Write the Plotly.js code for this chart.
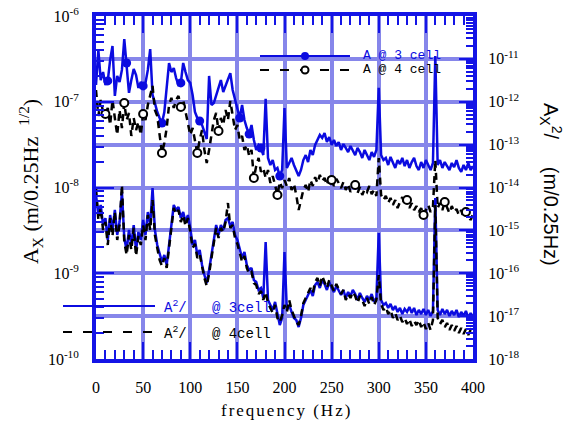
<!DOCTYPE html>
<html><head><meta charset="utf-8">
<script src="https://cdn.plot.ly/plotly-3.0.1.min.js"></script>
<style>html,body{margin:0;padding:0;background:#fff}#chart{width:574px;height:428px}</style>
</head><body><div id="chart"></div>
<script>
// frequency (Hz)
const FREQ = [
0,2.5,5,7.5,10,12.5,15,17.5,20,22.5,
25,27.5,30,32.5,35,37.5,40,42.5,45,47.5,
50,52.5,55,57.5,60,62.5,65,67.5,70,72.5,
75,77.5,80,82.5,85,87.5,90,92.5,95,97.5,
100,102.5,105,107.5,110,112.5,115,117.5,120,122.5,
125,127.5,130,132.5,135,137.5,140,142.5,145,147.5,
150,152.5,155,157.5,160,162.5,165,167.5,170,172.5,
175,177.5,180,182.5,185,187.5,190,192.5,195,197.5,
200,202.5,205,207.5,210,212.5,215,217.5,220,222.5,
225,227.5,230,232.5,235,237.5,240,242.5,245,247.5,
250,252.5,255,257.5,260,262.5,265,267.5,270,272.5,
275,277.5,280,282.5,285,287.5,290,292.5,295,297.5,
300,302.5,305,307.5,310,312.5,315,317.5,320,322.5,
325,327.5,330,332.5,335,337.5,340,342.5,345,347.5,
350,352.5,355,357.5,360,362.5,365,367.5,370,372.5,
375,377.5,380,382.5,385,387.5,390,392.5,395,397.5,
400];

// A (m/0.25Hz^1/2) @ 3 cell  (left axis)
const A_3CELL = [
1.57e-7,4.01e-7,1.79e-7,2.22e-7,1.57e-7,1.75e-7,3.07e-7,4.47e-7,1.17e-7,2.00e-7,
1.70e-7,2.35e-7,5.39e-7,2.83e-7,1.27e-7,1.79e-7,2.41e-7,2.05e-7,1.45e-7,1.70e-7,
1.53e-7,1.66e-7,2.35e-7,4.12e-7,1.20e-7,9.67e-8,7.59e-8,6.46e-8,5.65e-8,7.59e-8,
1.37e-7,2.83e-7,2.22e-7,2.47e-7,1.89e-7,1.57e-7,1.66e-7,2.83e-7,2.22e-7,1.79e-7,
1.66e-7,1.20e-7,7.59e-8,6.46e-8,5.96e-8,5.36e-8,4.44e-8,3.68e-8,2.00e-7,9.16e-8,
9.67e-8,1.20e-7,1.45e-7,1.79e-7,1.30e-7,1.57e-7,1.89e-7,2.16e-7,1.37e-7,1.05e-7,
8.01e-8,6.46e-8,9.16e-8,6.12e-8,4.94e-8,4.21e-8,5.36e-8,3.58e-8,2.74e-8,3.13e-8,
2.89e-8,2.39e-8,1.08e-7,2.21e-8,1.83e-8,2.09e-8,1.60e-8,1.69e-8,1.36e-8,1.60e-8,
8.46e-8,1.69e-8,1.93e-8,2.21e-8,1.83e-8,1.60e-8,1.36e-8,1.60e-8,2.09e-8,2.39e-8,
1.98e-8,2.74e-8,2.39e-8,3.13e-8,3.58e-8,4.10e-8,3.78e-8,4.32e-8,3.39e-8,3.88e-8,
3.13e-8,3.58e-8,3.05e-8,3.39e-8,2.74e-8,3.21e-8,2.89e-8,2.59e-8,3.05e-8,2.74e-8,
2.39e-8,2.89e-8,2.59e-8,2.21e-8,2.74e-8,2.39e-8,2.09e-8,2.59e-8,2.27e-8,2.74e-8,
1.45e-7,2.39e-8,2.09e-8,2.21e-8,1.83e-8,2.27e-8,1.98e-8,1.69e-8,2.09e-8,1.88e-8,
2.21e-8,1.78e-8,2.09e-8,1.69e-8,1.98e-8,2.21e-8,1.78e-8,1.60e-8,1.98e-8,1.69e-8,
2.09e-8,1.83e-8,1.60e-8,1.93e-8,3.42e-7,1.83e-8,2.09e-8,1.69e-8,1.98e-8,1.78e-8,
1.60e-8,1.93e-8,1.73e-8,2.09e-8,1.69e-8,1.52e-8,1.83e-8,1.60e-8,1.93e-8,1.60e-8,
1.78e-8];

// A (m/0.25Hz^1/2) @ 4 cell  (left axis)
const A_4CELL = [
1.37e-7,6.82e-8,1.05e-7,7.59e-8,7.20e-8,8.46e-8,5.36e-8,1.05e-7,6.46e-8,4.10e-8,
8.01e-8,4.94e-8,9.67e-8,6.12e-8,7.39e-8,3.99e-8,6.46e-8,4.68e-8,5.80e-8,4.10e-8,
7.20e-8,6.12e-8,9.16e-8,1.20e-7,1.53e-7,8.01e-8,6.82e-8,4.10e-8,2.52e-8,3.30e-8,
4.94e-8,9.16e-8,1.11e-7,8.46e-8,1.05e-7,1.17e-7,8.69e-8,1.05e-7,7.59e-8,5.21e-8,
4.10e-8,4.94e-8,3.68e-8,2.52e-8,3.58e-8,4.68e-8,2.74e-8,1.93e-8,2.74e-8,4.10e-8,
6.12e-8,7.39e-8,4.56e-8,6.46e-8,5.36e-8,8.01e-8,6.12e-8,1.02e-7,7.01e-8,4.68e-8,
5.36e-8,3.58e-8,3.99e-8,2.74e-8,3.13e-8,2.33e-8,2.74e-8,1.29e-8,1.78e-8,2.21e-8,
1.52e-8,1.69e-8,1.29e-8,1.60e-8,1.13e-8,1.36e-8,1.07e-8,8.18e-9,1.16e-8,9.83e-9,
1.22e-8,1.04e-8,1.29e-8,9.35e-9,1.10e-8,8.18e-9,5.46e-9,7.15e-9,9.35e-9,1.07e-8,
8.86e-9,1.22e-8,1.04e-8,1.32e-8,1.13e-8,1.40e-8,1.19e-8,1.29e-8,1.07e-8,1.36e-8,
1.22e-8,1.04e-8,1.26e-8,1.13e-8,9.83e-9,1.16e-8,9.35e-9,1.10e-8,8.86e-9,1.04e-8,
1.07e-8,8.62e-9,1.01e-8,8.18e-9,9.57e-9,8.86e-9,1.04e-8,8.39e-9,9.35e-9,7.96e-9,
2.21e-8,8.18e-9,7.15e-9,7.96e-9,6.59e-9,7.55e-9,6.25e-9,7.15e-9,5.76e-9,6.77e-9,
7.75e-9,6.25e-9,7.15e-9,5.76e-9,6.59e-9,5.46e-9,6.08e-9,5.18e-9,5.76e-9,4.78e-9,
5.46e-9,6.25e-9,5.18e-9,5.92e-9,2.09e-8,5.76e-9,6.59e-9,5.46e-9,6.77e-9,5.76e-9,
5.04e-9,6.08e-9,5.18e-9,5.61e-9,4.78e-9,5.46e-9,4.41e-9,5.18e-9,4.65e-9,4.18e-9,
4.90e-9];

// A^2 (m^2/0.25Hz) @ 3 cell  (right axis)
const A2_3CELL = [
6.69e-15,2.28e-15,3.91e-15,1.33e-15,1.94e-15,5.96e-16,2.28e-15,1.02e-15,2.99e-15,7.80e-16,
1.57e-15,7.85e-15,6.64e-16,3.49e-16,1.02e-15,4.56e-16,1.33e-15,3.49e-16,9.16e-16,5.96e-16,
1.75e-15,7.80e-16,2.68e-15,1.33e-15,9.73e-15,1.02e-15,4.56e-16,2.67e-16,1.83e-16,2.67e-16,
1.56e-16,4.56e-16,1.33e-15,3.91e-15,2.99e-15,3.51e-15,1.94e-15,2.68e-15,1.57e-15,2.28e-15,
1.14e-15,4.56e-16,5.96e-16,2.67e-16,3.49e-16,1.56e-16,9.10e-17,5.92e-17,1.19e-16,2.67e-16,
6.64e-16,1.33e-15,7.80e-16,1.33e-15,1.02e-15,1.75e-15,1.94e-15,1.26e-15,1.57e-15,7.80e-16,
5.96e-16,3.49e-16,2.27e-16,3.13e-16,1.56e-16,1.19e-16,1.33e-16,6.96e-17,6.25e-17,4.07e-17,
4.53e-17,2.65e-17,5.36e-16,2.38e-17,1.82e-17,1.39e-17,2.14e-17,1.06e-17,6.21e-18,9.04e-18,
3.13e-16,1.39e-17,1.82e-17,1.25e-17,9.04e-18,8.12e-18,5.57e-18,9.04e-18,1.82e-17,2.38e-17,
3.11e-17,4.07e-17,2.95e-17,5.32e-17,6.25e-17,4.53e-17,6.96e-17,5.61e-17,4.07e-17,6.25e-17,
4.53e-17,3.65e-17,5.04e-17,4.07e-17,3.11e-17,4.07e-17,2.65e-17,3.65e-17,2.95e-17,4.07e-17,
3.28e-17,2.38e-17,3.46e-17,2.65e-17,2.14e-17,2.95e-17,2.38e-17,3.28e-17,2.14e-17,2.65e-17,
8.68e-16,2.38e-17,1.82e-17,2.02e-17,1.55e-17,1.92e-17,1.39e-17,1.72e-17,1.25e-17,1.55e-17,
1.12e-17,1.47e-17,1.25e-17,1.63e-17,1.18e-17,1.55e-17,1.06e-17,1.39e-17,1.12e-17,1.47e-17,
1.06e-17,1.39e-17,1.01e-17,1.32e-17,5.69e-15,1.39e-17,1.06e-17,1.47e-17,1.12e-17,1.39e-17,
1.01e-17,1.32e-17,1.06e-17,1.39e-17,9.54e-18,1.25e-17,1.01e-17,1.32e-17,9.04e-18,1.18e-17,
9.54e-18];

// A^2 (m^2/0.25Hz) @ 4 cell  (right axis)
const A2_4CELL = [
9.73e-15,1.75e-15,3.33e-15,1.02e-15,1.57e-15,4.56e-16,1.94e-15,7.39e-16,2.68e-15,5.96e-16,
1.33e-15,1.14e-14,5.36e-16,2.67e-16,7.80e-16,3.49e-16,1.14e-15,2.53e-16,7.39e-16,4.56e-16,
1.33e-15,5.96e-16,2.28e-15,1.02e-15,5.11e-15,7.80e-16,3.88e-16,2.04e-16,1.48e-16,2.27e-16,
1.33e-16,3.88e-16,1.14e-15,3.33e-15,2.41e-15,2.99e-15,1.57e-15,2.28e-15,1.26e-15,1.94e-15,
9.16e-16,3.88e-16,4.81e-16,2.27e-16,2.81e-16,1.33e-16,7.75e-17,5.04e-17,9.61e-17,2.27e-16,
5.36e-16,1.14e-15,6.64e-16,1.14e-15,9.16e-16,1.57e-15,4.35e-15,1.14e-15,1.33e-15,6.64e-16,
4.81e-16,2.81e-16,1.83e-16,2.53e-16,1.33e-16,9.61e-17,1.07e-16,5.92e-17,5.32e-17,3.28e-17,
3.85e-17,2.38e-17,3.65e-17,2.02e-17,1.55e-17,1.18e-17,1.82e-17,9.04e-18,7.29e-18,1.06e-17,
1.82e-17,1.25e-17,2.38e-17,1.39e-17,1.01e-17,7.29e-18,6.21e-18,1.01e-17,2.02e-17,2.65e-17,
3.65e-17,4.53e-17,3.46e-17,6.25e-17,7.75e-17,5.04e-17,8.63e-17,6.25e-17,4.53e-17,6.96e-17,
5.04e-17,3.85e-17,5.61e-17,4.07e-17,3.28e-17,4.07e-17,2.38e-17,3.28e-17,2.65e-17,3.65e-17,
2.95e-17,2.02e-17,2.95e-17,2.38e-17,1.72e-17,2.65e-17,1.92e-17,2.79e-17,1.82e-17,2.38e-17,
9.10e-17,1.92e-17,1.39e-17,1.63e-17,1.12e-17,1.39e-17,9.04e-18,1.18e-17,8.12e-18,1.01e-17,
7.29e-18,9.04e-18,6.55e-18,8.57e-18,5.88e-18,7.70e-18,6.21e-18,8.12e-18,5.57e-18,7.29e-18,
5.01e-18,6.91e-18,4.75e-18,8.12e-18,3.91e-15,9.04e-18,6.55e-18,8.12e-18,5.57e-18,6.91e-18,
4.75e-18,6.21e-18,4.50e-18,5.88e-18,4.04e-18,5.28e-18,3.83e-18,5.01e-18,3.63e-18,4.75e-18,
4.04e-18];

// which samples carry a marker symbol
const MARK_IDX_3 = [5,13,20,28,36,44,61,65,70,78];
const MARK_IDX_4 = [4,12,20,28,36,43,52,67,77,100,110,132,139,148,157];

// tick labels
const LEFT_TICK_VALS = [1e-10,1e-9,1e-8,1e-7,1e-6];
const LEFT_TICK_TEXT = ['10<sup>-10</sup>','10<sup>-9</sup>','10<sup>-8</sup>','10<sup>-7</sup>','10<sup>-6</sup>'];
const RIGHT_TICK_VALS = [1e-18,1e-17,1e-16,1e-15,1e-14,1e-13,1e-12,1e-11,1e-10];
const RIGHT_TICK_TEXT = ['10<sup>-18</sup>','10<sup>-17</sup>','10<sup>-16</sup>','10<sup>-15</sup>','10<sup>-14</sup>','10<sup>-13</sup>','10<sup>-12</sup>','10<sup>-11</sup>',''];

const BLUE = '#0b0be0', FRAME = '#1414e6', GRID = '#8686ea';
const SERIF = 'Liberation Serif, Times New Roman, serif';
const MONO = 'Liberation Mono, DejaVu Sans Mono, monospace';
const SANS = 'Liberation Sans, Arial, sans-serif';
const NB = '\u00a0';

function logMinor(lo, hi){ const v=[]; for(let e=lo;e<hi;e++){ for(let m=2;m<=9;m++) v.push(m*Math.pow(10,e)); } return v; }
function pick(arr, idx){ return idx.map(i=>arr[i]); }

const traces = [
  {x:FREQ, y:A_3CELL, yaxis:'y', mode:'lines', line:{color:BLUE, width:2.5}, hoverinfo:'skip'},
  {x:pick(FREQ,MARK_IDX_3), y:pick(A_3CELL,MARK_IDX_3), yaxis:'y', mode:'markers',
   marker:{symbol:'circle', size:9, color:BLUE}, hoverinfo:'skip'},
  {x:FREQ, y:A_4CELL, yaxis:'y', mode:'lines', line:{color:'#000', width:2.5, dash:'7px,5px'}, hoverinfo:'skip'},
  {x:pick(FREQ,MARK_IDX_4), y:pick(A_4CELL,MARK_IDX_4), yaxis:'y', mode:'markers',
   marker:{symbol:'circle', size:8, color:'#fff', line:{color:'#000', width:2}}, hoverinfo:'skip'},
  {x:FREQ, y:A2_3CELL, yaxis:'y2', mode:'lines', line:{color:BLUE, width:2.5}, hoverinfo:'skip'},
  {x:FREQ, y:A2_4CELL, yaxis:'y2', mode:'lines', line:{color:'#000', width:2.5, dash:'7px,5px'}, hoverinfo:'skip'}
];

const tickFont = {family:SERIF, size:16, color:'#000'};

const layout = {
  width:574, height:428,
  margin:{l:96, r:101, t:16, b:69, pad:0},
  paper_bgcolor:'#fff', plot_bgcolor:'#fff',
  showlegend:false,
  xaxis:{
    range:[0,400], tick0:0, dtick:50, ticks:'inside', ticklen:17, tickwidth:2, tickcolor:FRAME,
    minor:{dtick:10, tick0:0, ticks:'inside', ticklen:9, tickwidth:2, tickcolor:FRAME, showgrid:false},
    showline:true, linecolor:FRAME, linewidth:4, mirror:'ticks',
    showgrid:true, gridcolor:GRID, gridwidth:4, zeroline:false,
    tickfont:tickFont, ticklabelstandoff:11
  },
  yaxis:{
    type:'log', range:[-10,-6], tickmode:'array', tickvals:LEFT_TICK_VALS, ticktext:LEFT_TICK_TEXT,
    ticks:'inside', ticklen:18, tickwidth:2, tickcolor:FRAME,
    minor:{tickmode:'array', tickvals:logMinor(-10,-6), ticks:'inside', ticklen:8, tickwidth:2, tickcolor:FRAME, showgrid:false},
    showline:true, linecolor:FRAME, linewidth:4, mirror:false,
    showgrid:false, zeroline:false, tickfont:tickFont, ticklabelstandoff:10
  },
  yaxis2:{
    type:'log', range:[-18,-10], overlaying:'y', side:'right',
    tickmode:'array', tickvals:RIGHT_TICK_VALS, ticktext:RIGHT_TICK_TEXT,
    ticks:'inside', ticklen:14, tickwidth:2, tickcolor:FRAME,
    minor:{tickmode:'array', tickvals:logMinor(-18,-10), ticks:'inside', ticklen:7, tickwidth:2, tickcolor:FRAME, showgrid:false},
    showline:true, linecolor:FRAME, linewidth:4,
    showgrid:true, gridcolor:GRID, gridwidth:4, zeroline:false, tickfont:tickFont, ticklabelstandoff:8
  },
  shapes:[
    {type:'line', xref:'paper', yref:'paper', x0:0.435, x1:0.6737, y0:0.8834, y1:0.8834, line:{color:BLUE, width:2}},
    {type:'circle', xref:'paper', yref:'paper', x0:0.5438, x1:0.5650, y0:0.8717, y1:0.8950, fillcolor:BLUE, line:{width:0}},
    {type:'line', xref:'paper', yref:'paper', x0:0.435, x1:0.6737, y0:0.8426, y1:0.8426, line:{color:'#000', width:2, dash:'9px,11px'}},
    {type:'circle', xref:'paper', yref:'paper', x0:0.5451, x1:0.5637, y0:0.8324, y1:0.8528, fillcolor:'#fff', line:{color:'#000', width:2}},
    {type:'line', xref:'paper', yref:'paper', x0:-0.0875, x1:0.1565, y0:0.1545, y1:0.1545, line:{color:BLUE, width:2}},
    {type:'line', xref:'paper', yref:'paper', x0:-0.0875, x1:0.1565, y0:0.0787, y1:0.0787, line:{color:'#000', width:2, dash:'9px,11px'}}
  ],
  annotations:[
    {xref:'paper', yref:'paper', x:0.7056, y:0.8834, xanchor:'left', yanchor:'middle', showarrow:false, borderpad:0,
     text:'A'+NB+'@'+NB+'3'+NB+'cell', font:{family:MONO, size:13, color:BLUE}},
    {xref:'paper', yref:'paper', x:0.7056, y:0.8426, xanchor:'left', yanchor:'middle', showarrow:false, borderpad:0,
     text:'A'+NB+'@'+NB+'4'+NB+'cell', font:{family:MONO, size:13, color:'#000'}},
    {xref:'paper', yref:'paper', x:0.1777, y:0.1520, xanchor:'left', yanchor:'middle', showarrow:false, borderpad:0,
     text:'A<sup>2</sup>/'+NB+NB+NB+'@'+NB+'3cell', font:{family:MONO, size:14, color:BLUE}},
    {xref:'paper', yref:'paper', x:0.1777, y:0.0762, xanchor:'left', yanchor:'middle', showarrow:false, borderpad:0,
     text:'A<sup>2</sup>/'+NB+NB+NB+'@'+NB+'4cell', font:{family:MONO, size:14, color:'#000'}},
    {xref:'paper', yref:'paper', x:0.5066, y:-0.1487, xanchor:'center', yanchor:'middle', showarrow:false,
     text:'<span style="letter-spacing:2px">frequency (Hz)</span>', font:{family:SERIF, size:17, color:'#000'}},
    {xref:'paper', yref:'paper', x:-0.175, y:0.516, xanchor:'center', yanchor:'middle', showarrow:false, textangle:-90,
     text:'A<sub>X</sub> (m/0.25Hz'+NB+NB+'<sup>1/2</sup>)', font:{family:SERIF, size:22, color:'#000'}},
    {xref:'paper', yref:'paper', x:1.207, y:0.5100, xanchor:'center', yanchor:'middle', showarrow:false, textangle:90,
     text:'A<sub>X</sub><sup>2</sup>/'+NB+NB+NB+NB+NB+'(m/0.25Hz)', font:{family:SANS, size:20, color:'#000'}}
  ]
};

Plotly.newPlot('chart', traces, layout, {staticPlot:true, displayModeBar:false});
</script>
</body></html>
